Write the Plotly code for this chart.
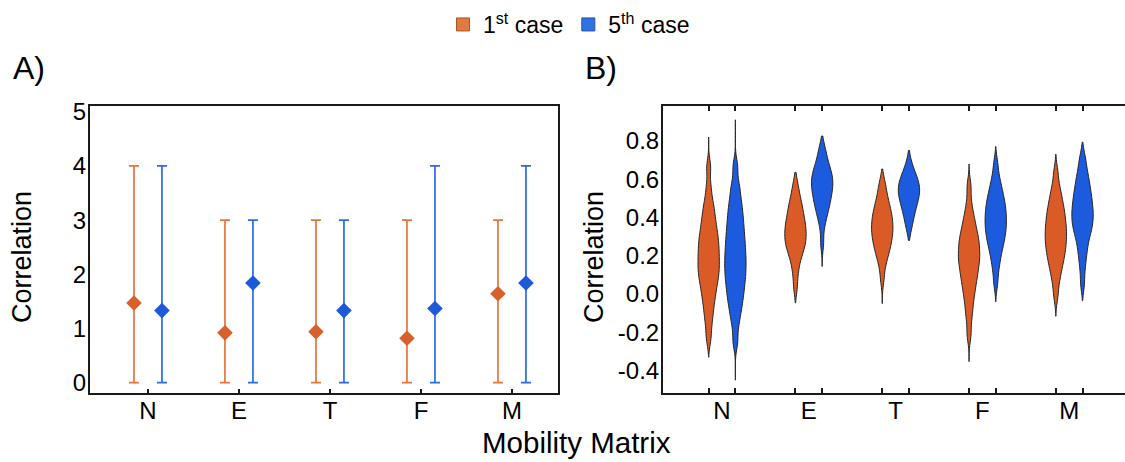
import plotly.graph_objects as go

# ---------------- data ----------------
categories = ["N", "E", "T", "F", "M"]
case_names = ["1<sup>st</sup> case", "5<sup>th</sup> case"]

# Panel A: point estimate and interval per mobility matrix
a_case1_point = [1.47, 0.92, 0.94, 0.82, 1.64]
a_case1_low = [0, 0, 0, 0, 0]
a_case1_high = [4, 3, 3, 3, 3]
a_case5_point = [1.33, 1.84, 1.33, 1.37, 1.84]
a_case5_low = [0, 0, 0, 0, 0]
a_case5_high = [4, 3, 3, 4, 4]
a_yticks = [0, 1, 2, 3, 4, 5]

# Panel B: correlation samples (quantiles) and their ranges
b1_N = [0.662, 0.559, 0.49, 0.454, 0.418, 0.39, 0.363, 0.338, 0.314, 0.295, 0.276, 0.256,
        0.237, 0.218, 0.200, 0.182, 0.163, 0.145, 0.127, 0.109, 0.090, 0.071, 0.049, 0.023,
        -0.004, -0.03, -0.07, -0.107, -0.16, -0.232]
b1_E = [0.575, 0.528, 0.491, 0.470, 0.449, 0.428, 0.407, 0.391, 0.376, 0.360, 0.346, 0.332,
        0.318, 0.304, 0.290, 0.276, 0.262, 0.248, 0.231, 0.214, 0.189, 0.154, 0.107, 0.035]
b1_T = [0.587, 0.547, 0.511, 0.484, 0.465, 0.445, 0.426, 0.412, 0.397, 0.383, 0.369, 0.354,
        0.341, 0.327, 0.313, 0.299, 0.285, 0.268, 0.250, 0.232, 0.215, 0.184, 0.153, 0.081]
b1_F = [0.562, 0.472, 0.416, 0.384, 0.356, 0.328, 0.307, 0.289, 0.271, 0.253, 0.235, 0.217,
        0.200, 0.184, 0.167, 0.150, 0.130, 0.108, 0.087, 0.065, 0.037, 0.006, -0.026, -0.073,
        -0.125, -0.211]
b1_M = [0.635, 0.566, 0.528, 0.500, 0.472, 0.449, 0.430, 0.411, 0.392, 0.373, 0.356, 0.340,
        0.324, 0.307, 0.291, 0.274, 0.258, 0.241, 0.223, 0.203, 0.182, 0.162, 0.133, 0.103,
        0.060, -0.009]
b5_N = [0.666, 0.578, 0.533, 0.489, 0.457, 0.426, 0.397, 0.371, 0.345, 0.319, 0.296, 0.273,
        0.251, 0.228, 0.207, 0.187, 0.166, 0.146, 0.125, 0.104, 0.083, 0.062, 0.037, 0.012,
        -0.013, -0.041, -0.075, -0.11, -0.164, -0.249]
b5_E = [0.77, 0.732, 0.705, 0.677, 0.659, 0.645, 0.630, 0.616, 0.604, 0.592, 0.580, 0.568,
        0.555, 0.542, 0.529, 0.513, 0.498, 0.482, 0.466, 0.446, 0.424, 0.397, 0.355, 0.265]
b5_T = [0.688, 0.647, 0.628, 0.609, 0.594, 0.582, 0.570, 0.558, 0.546, 0.535, 0.523, 0.512,
        0.500, 0.484, 0.468, 0.452, 0.430, 0.408, 0.379, 0.338]
b5_F = [0.681, 0.614, 0.580, 0.547, 0.526, 0.506, 0.485, 0.468, 0.452, 0.436, 0.420, 0.405,
        0.389, 0.374, 0.359, 0.344, 0.329, 0.312, 0.294, 0.276, 0.258, 0.233, 0.207, 0.172,
        0.129, 0.058]
b5_M = [0.718, 0.671, 0.629, 0.604, 0.579, 0.554, 0.534, 0.515, 0.497, 0.479, 0.461, 0.445,
        0.430, 0.414, 0.399, 0.383, 0.367, 0.351, 0.335, 0.313, 0.292, 0.261, 0.226, 0.188,
        0.132, 0.052]

b1_ranges = [[-0.33, 0.82], [-0.046, 0.635], [-0.05, 0.653], [-0.353, 0.679], [-0.116, 0.73]]
b5_ranges = [[-0.45, 0.91], [0.144, 0.825], [0.28, 0.75], [-0.04, 0.77], [-0.035, 0.793]]

b_yticks = [-0.4, -0.2, 0.0, 0.2, 0.4, 0.6, 0.8]
b_yticktext = ["-0.4", "-0.2", "0.0", "0.2", "0.4", "0.6", "0.8"]

# ---------------- style ----------------
FONT = "Liberation Sans"
ORANGE_MARK = "#D9602A"
ORANGE_BAR = "#E8743A"
BLUE_MARK = "#1D5AD9"
BLUE_BAR = "#2B6BE6"
ORANGE_FILL = "#DA5B26"
BLUE_FILL = "#1C5BDD"
LEG_ORANGE = ("#E27A3E", "#A9542A")
LEG_BLUE = ("#2F72E6", "#23509F")
AXIS = "#1a1a1a"
GROUP_OFFSET = 0.154
BW = 0.042
TICK_SIZE = 24

W, H = 1125, 462


def px_x(p):
    return p / W


def px_y(p):
    return 1 - p / H


fig = go.Figure()

# ---------------- panel A ----------------
for gid, (pt, lo, hi, mc, bc) in enumerate([
        (a_case1_point, a_case1_low, a_case1_high, ORANGE_MARK, ORANGE_BAR),
        (a_case5_point, a_case5_low, a_case5_high, BLUE_MARK, BLUE_BAR)]):
    fig.add_trace(go.Scatter(
        x=categories, y=pt, mode="markers", xaxis="x", yaxis="y",
        offsetgroup=str(gid), alignmentgroup="a",
        marker=dict(symbol="diamond", size=12, color=mc, line=dict(width=0)),
        error_y=dict(type="data", symmetric=False,
                     array=[h - p for h, p in zip(hi, pt)],
                     arrayminus=[p - l for p, l in zip(pt, lo)],
                     color=bc, thickness=1.7, width=5),
        showlegend=False, hoverinfo="skip"))

# ---------------- panel B ----------------
b1_samples = [b1_N, b1_E, b1_T, b1_F, b1_M]
b5_samples = [b5_N, b5_E, b5_T, b5_F, b5_M]
for gid, (samples, ranges, fill, name) in enumerate([
        (b1_samples, b1_ranges, ORANGE_FILL, case_names[0]),
        (b5_samples, b5_ranges, BLUE_FILL, case_names[1])]):
    for k, cat in enumerate(categories):
        vals = samples[k]
        fig.add_trace(go.Violin(
            x=[cat] * len(vals), y=vals, xaxis="x2", yaxis="y2",
            name=name, legendgroup=name, showlegend=False,
            offsetgroup=str(gid), alignmentgroup="b",
            scalegroup=f"{gid}-{cat}",
            fillcolor=fill, opacity=1,
            line=dict(color="#262626", width=1),
            points=False, box_visible=False, meanline_visible=False,
            spanmode="manual", span=ranges[k], bandwidth=BW,
            scalemode="width", hoverinfo="skip"))

# legend entries (no data drawn) on the tick-overlay axis
for name, (fc, lc) in zip(case_names, [LEG_ORANGE, LEG_BLUE]):
    fig.add_trace(go.Scatter(
        x=[None], y=[None], xaxis="x3", yaxis="y2", mode="markers", name=name,
        marker=dict(symbol="square", size=13, color=fc, line=dict(color=lc, width=1)),
        hoverinfo="skip"))

b_tickvals = []
for i in range(len(categories)):
    b_tickvals += [i - GROUP_OFFSET, i + GROUP_OFFSET]

y_dom = [px_y(393), px_y(106)]
a_range = [-0.637, 4.506]
b_range = [-0.68, 4.643]

fig.update_layout(
    width=W, height=H,
    margin=dict(l=0, r=0, t=0, b=0, autoexpand=False),
    paper_bgcolor="white", plot_bgcolor="white",
    font=dict(family=FONT, color="black", size=22),
    scattermode="group", scattergap=0.385,
    violinmode="group", violingap=0.385, violingroupgap=0.2,
    showlegend=True,
    legend=dict(orientation="h", x=px_x(569), xanchor="center", y=px_y(3), yanchor="top",
                font=dict(size=23, family=FONT), bgcolor="rgba(0,0,0,0)",
                itemclick=False, traceorder="normal", itemwidth=30),
    xaxis=dict(domain=[px_x(90), px_x(558)], anchor="y", type="category",
               categoryorder="array", categoryarray=categories, range=a_range,
               showline=True, linecolor=AXIS, linewidth=2, mirror=True,
               ticks="inside", ticklen=4, tickwidth=1.5, tickcolor=AXIS,
               showgrid=False, zeroline=False, tickfont=dict(size=TICK_SIZE),
               ticklabelstandoff=-5),
    yaxis=dict(domain=y_dom, anchor="x", range=[-0.19, 5.105], tickvals=a_yticks,
               showline=True, linecolor=AXIS, linewidth=2, mirror=True,
               ticks="", showgrid=False, zeroline=False, tickfont=dict(size=TICK_SIZE),
               ticklabelstandoff=-3),
    xaxis2=dict(domain=[px_x(663), 1.0], anchor="y2", type="category",
                categoryorder="array", categoryarray=categories, range=b_range,
                showline=True, linecolor=AXIS, linewidth=2, mirror=False,
                ticks="", showgrid=False, zeroline=False, tickfont=dict(size=TICK_SIZE),
                ticklabelstandoff=-5),
    xaxis3=dict(overlaying="x2", anchor="y2", range=b_range, tickvals=b_tickvals,
                showticklabels=False, ticks="inside", ticklen=5, tickwidth=1.5,
                tickcolor=AXIS, showline=True, linecolor=AXIS, linewidth=2,
                mirror="ticks", showgrid=False, zeroline=False),
    yaxis2=dict(domain=y_dom, anchor="x2", range=[-0.517, 0.982],
                tickvals=b_yticks, ticktext=b_yticktext,
                showline=True, linecolor=AXIS, linewidth=2, mirror=False,
                ticks="", showgrid=False, zeroline=False, tickfont=dict(size=TICK_SIZE),
                ticklabelstandoff=-3),
)

annots = [
    dict(text="A)", x=px_x(11), y=px_y(68), xanchor="left", yanchor="middle",
         font=dict(size=32)),
    dict(text="B)", x=px_x(583), y=px_y(68), xanchor="left", yanchor="middle",
         font=dict(size=32)),
    dict(text="Correlation", x=px_x(22), y=px_y(257), xanchor="center", yanchor="middle",
         textangle=-90, font=dict(size=27)),
    dict(text="Correlation", x=px_x(594), y=px_y(257), xanchor="center", yanchor="middle",
         textangle=-90, font=dict(size=27)),
    dict(text="Mobility Matrix", x=px_x(576), y=px_y(442), xanchor="center",
         yanchor="middle", font=dict(size=29.5)),
]
for a in annots:
    fig.add_annotation(xref="paper", yref="paper", showarrow=False, **a)

fig.write_html(
    "out.html",
    config={"displayModeBar": False},
    post_script="document.body.style.margin='0';document.body.style.overflow='hidden';")
